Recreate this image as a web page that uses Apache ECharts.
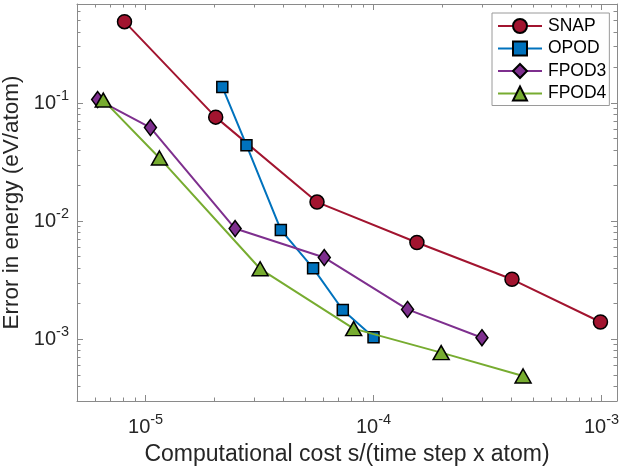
<!DOCTYPE html>
<html>
<head>
<meta charset="utf-8">
<script src="https://cdn.jsdelivr.net/npm/echarts@6/dist/echarts.min.js"></script>
<style>html,body{margin:0;padding:0;background:#fff;}#c{width:621px;height:468px;}</style>
</head>
<body>
<div id="c"></div>
<script>
const seriesNames = ['SNAP', 'OPOD', 'FPOD3', 'FPOD4'];
const snapX = [8.08e-6, 2.03e-5, 5.65e-5, 1.55e-4, 4.05e-4, 9.9e-4];
const snapY = [0.489, 0.076, 0.0145, 0.0066, 0.00322, 0.0014];
const opodX = [2.17e-5, 2.77e-5, 3.92e-5, 5.43e-5, 7.33e-5, 1.0e-4];
const opodY = [0.137, 0.044, 0.00843, 0.0040, 0.00177, 0.00104];
const fpod3X = [6.16e-6, 1.05e-5, 2.47e-5, 6.08e-5, 1.41e-4, 2.99e-4];
const fpod3Y = [0.107, 0.062, 0.00866, 0.00492, 0.00179, 0.00103];
const fpod4X = [6.52e-6, 1.15e-5, 3.18e-5, 8.18e-5, 1.98e-4, 4.53e-4];
const fpod4Y = [0.106, 0.0343, 0.00395, 0.00123, 0.00077, 0.000489];
const xTitle = 'Computational cost s/(time step x atom)';
const yTitle = 'Error in energy (eV/atom)';

const FONT = "'Liberation Sans', Arial, Helvetica, sans-serif";
const AXIS_COLOR = '#8a8a8a';
const TEXT_COLOR = '#262626';

function pairs(xs, ys) { return xs.map((x, i) => [x, ys[i]]); }
function powLabel(v) {
  const l = Math.log10(v);
  const e = Math.round(l);
  if (Math.abs(l - e) > 1e-6) return '';
  return '{b|10}{s|' + e + '}';
}
const richLabel = {
  b: { fontSize: 20, fontFamily: FONT, color: TEXT_COLOR },
  s: { fontSize: 14.5, fontFamily: FONT, color: TEXT_COLOR, padding: [0, 0, 15, 0] }
};

function baseAxis(extra) {
  return Object.assign({
    type: 'log',
    logBase: 10,
    axisLine: { show: true, lineStyle: { color: AXIS_COLOR, width: 1 } },
    axisTick: { show: true, inside: true, length: 6, lineStyle: { color: AXIS_COLOR, width: 1 } },
    minorTick: { show: true, splitNumber: 9, length: 3.5, lineStyle: { color: AXIS_COLOR, width: 1 } },
    splitLine: { show: false },
    minorSplitLine: { show: false }
  }, extra);
}

const xMin = 5e-6, xMax = 1.17e-3, yMin = 3e-4, yMax = 0.69;

const colors = ['#A2142F', '#0072BD', '#7E2F8E', '#77AC30'];
const symbols = ['circle', 'rect', 'diamond', 'triangle'];
const sizes = [14, 11, [12, 16], [16, 14]];
const dataSets = [pairs(snapX, snapY), pairs(opodX, opodY), pairs(fpod3X, fpod3Y), pairs(fpod4X, fpod4Y)];

const chart = echarts.init(document.getElementById('c'), null, { renderer: 'canvas' });
chart.setOption({
  animation: false,
  backgroundColor: '#ffffff',
  textStyle: { fontFamily: FONT },
  grid: { left: 77, top: 4, right: 4, bottom: 67, containLabel: false, outerBoundsMode: 'none' },
  legend: {
    left: 492, top: 13,
    orient: 'vertical',
    backgroundColor: '#ffffff',
    borderColor: '#9a9a9a', borderWidth: 1,
    padding: [4, 3, 3, 5],
    itemWidth: 44, itemHeight: 17.5, itemGap: 4.5,
    textStyle: { fontSize: 17.5, lineHeight: 17, fontFamily: FONT, color: '#000', padding: [0, 0, 0, 1] },
    data: seriesNames
  },
  xAxis: [
    baseAxis({
      min: xMin, max: xMax, position: 'bottom',
      name: xTitle, nameLocation: 'middle', nameGap: 42,
      nameTextStyle: { fontSize: 23, fontFamily: FONT, color: TEXT_COLOR },
      axisLabel: { show: true, margin: 11, formatter: powLabel, rich: richLabel, showMinLabel: false, showMaxLabel: false }
    }),
    baseAxis({ min: xMin, max: xMax, position: 'top', axisLabel: { show: false } })
  ],
  yAxis: [
    baseAxis({
      min: yMin, max: yMax, position: 'left',
      name: yTitle, nameLocation: 'middle', nameGap: 42,
      nameTextStyle: { fontSize: 22.5, fontFamily: FONT, color: TEXT_COLOR },
      axisLabel: { show: true, margin: 8, formatter: powLabel, rich: richLabel, showMinLabel: false, showMaxLabel: false }
    }),
    baseAxis({ min: yMin, max: yMax, position: 'right', axisLabel: { show: false } })
  ],
  series: seriesNames.map((n, i) => ({
    name: n,
    type: 'line',
    xAxisIndex: 0, yAxisIndex: 0,
    data: dataSets[i],
    symbol: symbols[i],
    symbolSize: sizes[i],
    showAllSymbol: true,
    lineStyle: { color: colors[i], width: 2 },
    itemStyle: { color: colors[i], borderColor: '#000', borderWidth: 1.5 },
    emphasis: { disabled: true },
    z: 2 + i
  }))
});
</script>
</body>
</html>
